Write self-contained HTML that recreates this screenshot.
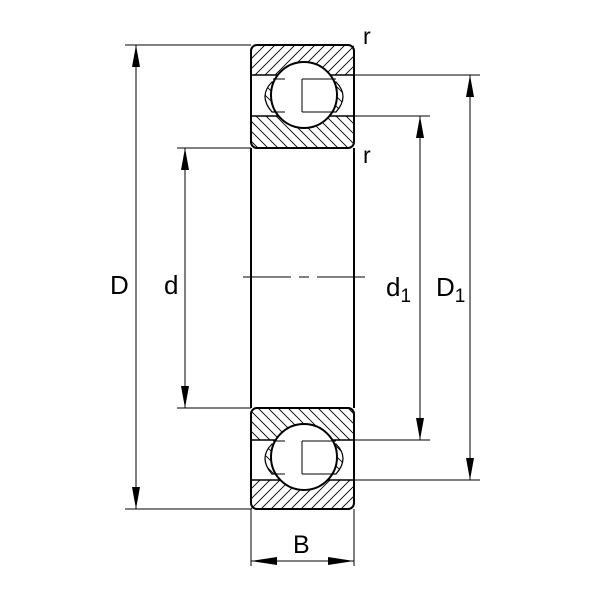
<!DOCTYPE html>
<html><head><style>html,body{margin:0;padding:0;background:#fff}</style></head><body>
<svg width="600" height="600" viewBox="0 0 600 600" xmlns="http://www.w3.org/2000/svg" font-family="Liberation Sans, sans-serif">
<defs>
<pattern id="hf" patternUnits="userSpaceOnUse" width="10" height="10"><path d="M-1,1 L1,-1 M0,10 L10,0 M9,11 L11,9" stroke="#000" stroke-width="0.9"/></pattern>
<pattern id="hb" patternUnits="userSpaceOnUse" width="10" height="10"><path d="M-1,9 L1,11 M0,0 L10,10 M9,-1 L11,1" stroke="#000" stroke-width="0.9"/></pattern>
</defs>
<g fill="none" stroke="#000">
<rect x="251" y="45" width="103" height="30" fill="url(#hf)" stroke="none"/>
<rect x="251" y="116" width="103" height="32" fill="url(#hb)" stroke="none"/>
<rect x="251" y="408" width="103" height="32" fill="url(#hb)" stroke="none"/>
<rect x="251" y="480" width="103" height="29" fill="url(#hf)" stroke="none"/>
<rect x="251" y="45" width="103" height="103" rx="6" stroke-width="2"/>
<rect x="251" y="408" width="103" height="101" rx="6" stroke-width="2"/>
<line x1="251" y1="148" x2="251" y2="408" stroke-width="2"/>
<line x1="354" y1="148" x2="354" y2="408" stroke-width="2"/>
<g stroke-width="1.5">
<line x1="251" y1="75" x2="354" y2="75"/><line x1="251" y1="116" x2="354" y2="116"/>
<line x1="251" y1="440" x2="354" y2="440"/><line x1="251" y1="480" x2="354" y2="480"/>
</g>
<g stroke-width="1.2" fill="url(#hb)">
<path d="M272,82 Q258,96 272,112 L280,112 Q270,96 280,82 z"/>
<path d="M336,82 Q350,96 336,112 L328,112 Q338,96 328,82 z"/>
<path d="M272,444 Q258,458 272,474 L280,474 Q270,458 280,444 z"/>
<path d="M336,444 Q350,458 336,474 L328,474 Q338,458 328,444 z"/>
</g>
<circle cx="304" cy="95" r="33" fill="#fff" stroke-width="2"/>
<circle cx="304" cy="457" r="33" fill="#fff" stroke-width="2"/>
<g stroke-width="1">
<line x1="302" y1="79" x2="302" y2="112"/><line x1="302" y1="441" x2="302" y2="474"/>
<line x1="273" y1="79" x2="285" y2="79"/><line x1="302" y1="79" x2="336" y2="79"/>
<line x1="273" y1="112" x2="285" y2="112"/><line x1="302" y1="112" x2="336" y2="112"/>
<line x1="273" y1="441" x2="285" y2="441"/><line x1="302" y1="441" x2="336" y2="441"/>
<line x1="273" y1="474" x2="285" y2="474"/><line x1="302" y1="474" x2="336" y2="474"/>
</g>
<g stroke-width="1"><line x1="243" y1="277" x2="291" y2="277"/><line x1="299" y1="277" x2="309" y2="277"/><line x1="317" y1="277" x2="365" y2="277"/></g>
<g stroke-width="1">
<line x1="125" y1="45" x2="251" y2="45"/><line x1="125" y1="509" x2="251" y2="509"/>
<line x1="136" y1="45" x2="136" y2="509"/>
<line x1="177" y1="148" x2="251" y2="148"/><line x1="177" y1="408" x2="251" y2="408"/>
<line x1="185" y1="148" x2="185" y2="408"/>
<line x1="354" y1="116" x2="430" y2="116"/><line x1="354" y1="440" x2="430" y2="440"/>
<line x1="420" y1="116" x2="420" y2="440"/>
<line x1="354" y1="75" x2="480" y2="75"/><line x1="354" y1="480" x2="480" y2="480"/>
<line x1="470" y1="75" x2="470" y2="480"/>
<line x1="251" y1="509" x2="251" y2="566"/><line x1="354" y1="509" x2="354" y2="566"/>
<line x1="251" y1="561" x2="354" y2="561"/>
</g>
</g>
<g fill="#000">
<path d="M136,45 L132,67 L140,67 z M136,509 L132,487 L140,487 z"/>
<path d="M185,148 L181,170 L189,170 z M185,408 L181,386 L189,386 z"/>
<path d="M420,116 L416,138 L424,138 z M420,440 L416,418 L424,418 z"/>
<path d="M470,75 L466,97 L474,97 z M470,480 L466,458 L474,458 z"/>
<path d="M251,561 L277,557 L277,565 z M354,561 L328,557 L328,565 z"/>
</g>
<g fill="#000" font-size="26">
<text x="110" y="294">D</text>
<text x="164" y="294">d</text>
<text x="386" y="296">d<tspan font-size="19" dy="6">1</tspan></text>
<text x="436" y="296">D<tspan font-size="19" dy="6">1</tspan></text>
<text x="293" y="553" font-size="25">B</text>
<text x="363" y="44" font-size="23">r</text>
<text x="363" y="163" font-size="23">r</text>
</g>
</svg>
</body></html>
